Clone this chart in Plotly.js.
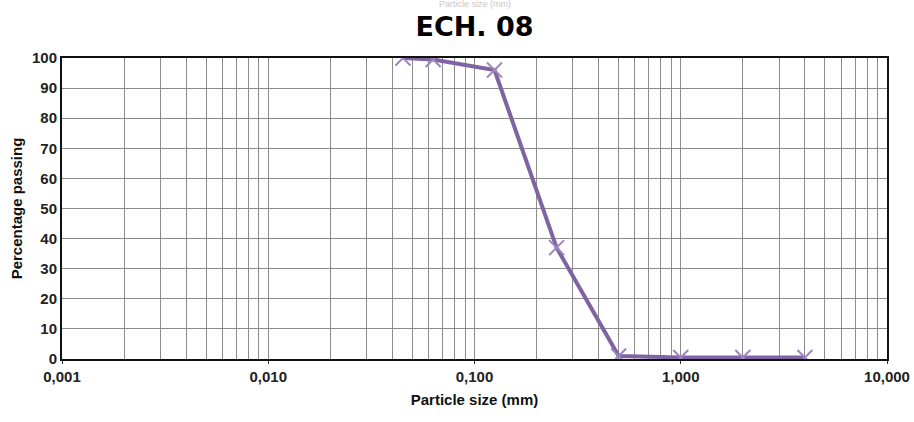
<!DOCTYPE html>
<html><head><meta charset="utf-8">
<script src="https://cdn.plot.ly/plotly-3.0.1.min.js"></script>
<style>html,body{margin:0;padding:0;background:#fff}#c{width:914px;height:422px}</style>
</head><body><div id="c"></div>
<script>
const sizes = [0.045, 0.063, 0.125, 0.25, 0.5, 1, 2, 4];
const passing = [100, 99.5, 96, 37, 1, 0.5, 0.5, 0.5];
const xTickVals = [0.001, 0.01, 0.1, 1, 10];
const xTickText = ['0,001', '0,010', '0,100', '1,000', '10,000'];
const minorMult = [2, 3, 4, 5, 6, 7, 8, 9];
const decades = [0.001, 0.01, 0.1, 1];
const minorVals = [];
decades.forEach(d => minorMult.forEach(m => minorVals.push(d * m)));

const font = 'Liberation Sans, Arial, sans-serif';
Plotly.newPlot('c', [{
  x: sizes, y: passing, type: 'scatter', mode: 'lines+markers',
  line: {color: '#8064A2', width: 4},
  marker: {symbol: 'x-thin', size: 15, line: {color: '#9c86bd', width: 2}, color: '#9c86bd'},
  showlegend: false
}], {
  width: 914, height: 422,
  margin: {l: 62, r: 27, t: 58, b: 63},
  paper_bgcolor: '#fff', plot_bgcolor: '#fff',
  title: {text: '<b>ECH. 08</b>', x: 0.5, xanchor: 'center', xref: 'paper', y: 0.938, yanchor: 'middle',
          font: {family: 'DejaVu Sans, sans-serif', size: 27, color: '#000'}},
  annotations: [{text: 'Particle size (mm)', xref: 'paper', yref: 'paper', x: 0.5, y: 1, yshift: 54,
                 showarrow: false, font: {family: font, size: 9, color: '#c8c8c8'}, yanchor: 'middle'}],
  xaxis: {
    type: 'log', range: [-3, 1],
    tickmode: 'array', tickvals: xTickVals, ticktext: xTickText,
    tickfont: {family: font, size: 15, color: '#222', weight: 'bold'},
    ticks: 'outside', ticklen: 3, tickcolor: '#333',
    showgrid: true, gridcolor: '#8c8c8c', gridwidth: 1,
    minor: {tickmode: 'array', tickvals: minorVals, showgrid: true, gridcolor: '#8c8c8c', gridwidth: 1, ticks: ''},
    showline: true, linecolor: '#111', linewidth: 2, mirror: true, zeroline: false,
    title: {text: '<b>Particle size (mm)</b>', font: {family: font, size: 15, color: '#111'}, standoff: 10}
  },
  yaxis: {
    range: [0, 100], dtick: 10, tick0: 0,
    tickfont: {family: font, size: 15, color: '#222', weight: 'bold'},
    ticks: '', showgrid: true, gridcolor: '#8c8c8c', gridwidth: 1,
    showline: true, linecolor: '#111', linewidth: 2, mirror: true, zeroline: false,
    title: {text: '<b>Percentage passing</b>', font: {family: font, size: 15, color: '#111'}, standoff: 6}
  }
}, {displayModeBar: false});
</script></body></html>
